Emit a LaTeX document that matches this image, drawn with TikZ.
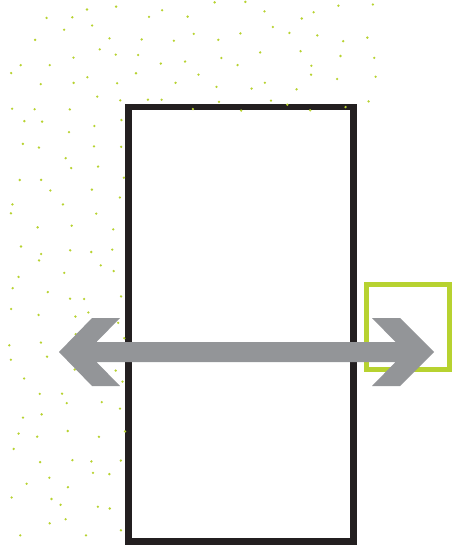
\documentclass[tikz,border=0pt]{standalone}
\usetikzlibrary{positioning}

\definecolor{frameblack}{RGB}{35,31,32}
\definecolor{limegreen}{RGB}{183,210,48}
\definecolor{arrowgray}{RGB}{147,149,152}

\begin{document}
\begin{tikzpicture}[x=1pt, y=-1pt,
    dot/.style={fill=limegreen},
    panel/.style={draw=frameblack, line width=6.5pt, rectangle, inner sep=0pt, minimum width=225pt, minimum height=434.5pt},
    marker/.style={draw=limegreen, line width=5pt, rectangle, inner sep=0pt, minimum width=83.5pt, minimum height=84.5pt}]

  \useasboundingbox (0,0) rectangle (452,546);

  % Frame
  \node[panel] (door) at (241,324.25) {};

  % Speckle (jittered grid over the L-shaped area)
  \pgfmathsetseed{17}
  \foreach \i in {0,...,14}{
    \foreach \j in {0,...,22}{
      \pgfmathsetmacro{\cx}{18+25*\i}
      \pgfmathsetmacro{\cy}{10+23.5*\j}
      \pgfmathtruncatemacro{\keep}{((\cx<130) || (\cy<106)) && !((\cx<30) && (\cy<45))}
      \ifnum\keep=1
        \fill[dot] (\cx+18*rnd-9, \cy+18*rnd-9) circle (1.3);
      \fi
    }
  }

  % Marker square
  \node[marker] (gap) at (407.75,326.75) {};

  % Double arrow
  \fill[arrowgray] (59,352) -- (92,318) -- (120,318) -- (96.5,342) -- (395.5,342)
    -- (372,318) -- (400,318) -- (434,352) -- (400,386) -- (372,386)
    -- (395.5,362) -- (96.5,362) -- (120,386) -- (92,386) -- cycle;

\end{tikzpicture}
\end{document}
